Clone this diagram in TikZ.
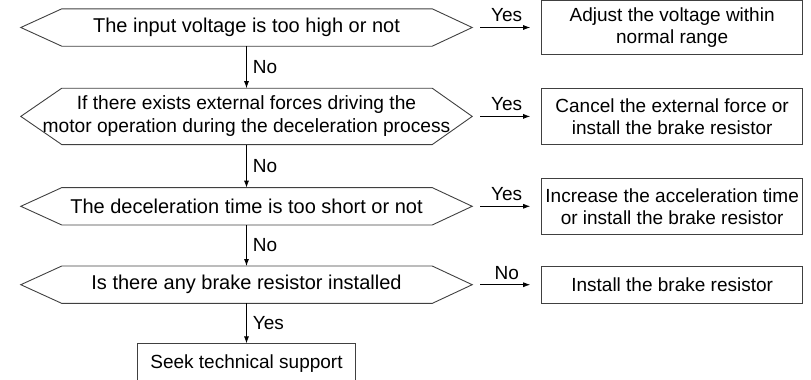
\documentclass[tikz,border=0pt]{standalone}
\usepackage{fontspec}
\setmainfont{Liberation Sans}
\usetikzlibrary{arrows.meta, positioning}

\begin{document}
\begin{tikzpicture}[
  x=1pt, y=1pt,
  node distance=42pt and 69pt,
  check/.style={minimum width=451pt, minimum height=37pt, inner sep=1pt, align=center, font=\fontsize{20}{24}\selectfont},
  action/.style={draw=black!75, line width=0.9pt, minimum width=261pt, minimum height=37pt, inner sep=2pt, align=center, font=\fontsize{19}{22}\selectfont},
  arrow/.style={line width=0.8pt, -{Latex[length=7pt, width=5pt]}},
  tag/.style={inner sep=2pt, font=\fontsize{19}{20}\selectfont}
]
\useasboundingbox (0,0) rectangle (811,-380);
\clip (0,0) rectangle (811,-380);

% questions on the left
\node[check] (q1) at (246.5,-27.5) {The input voltage is too high or not};
\node[check, below=of q1, minimum height=56pt, font=\fontsize{19.2}{23}\selectfont] (q2) {If there exists external forces driving the\\motor operation during the deceleration process};
\node[check, below=43pt of q2] (q3) {The deceleration time is too short or not};
\node[check, below=41pt of q3] (q4) {Is there any brake resistor installed};

\foreach \q in {q1,q2,q3,q4}
  \draw[draw=black!75, line width=0.9pt] (\q.west) -- ([xshift=41pt]\q.north west) -- ([xshift=-40pt]\q.north east) -- (\q.east)
    -- ([xshift=-40pt]\q.south east) -- ([xshift=41pt]\q.south west) -- cycle;

% actions on the right
\node[action, right=of q1, minimum height=54pt] (b1) {Adjust the voltage within\\normal range};
\node[action, right=of q2, minimum height=56pt] (b2) {Cancel the external force or\\install the brake resistor};
\node[action, right=of q3, minimum height=56pt] (b3) {Increase the acceleration time\\or install the brake resistor};
\node[action, right=of q4] (b4) {Install the brake resistor};
\node[action, below=40pt of q4, minimum width=218pt, minimum height=40pt] (b5) {Seek technical support};

\draw[arrow] (q1) -- node[tag, right=4pt] {No} (q2);
\draw[arrow] (q2) -- node[tag, right=4pt] {No} (q3);
\draw[arrow] (q3) -- node[tag, right=4pt] {No} (q4);
\draw[arrow] (q4) -- node[tag, right=4pt] {Yes} (b5);

\draw[arrow, shorten <=8pt, shorten >=11pt] (q1) -- node[tag, above=3pt] {Yes} (b1);
\draw[arrow, shorten <=8pt, shorten >=11pt] (q2) -- node[tag, above=3pt] {Yes} (b2);
\draw[arrow, shorten <=8pt, shorten >=11pt] (q3) -- node[tag, above=3pt] {Yes} (b3);
\draw[arrow, shorten <=8pt, shorten >=11pt] (q4) -- node[tag, above=3pt] {No} (b4);
\end{tikzpicture}
\end{document}
